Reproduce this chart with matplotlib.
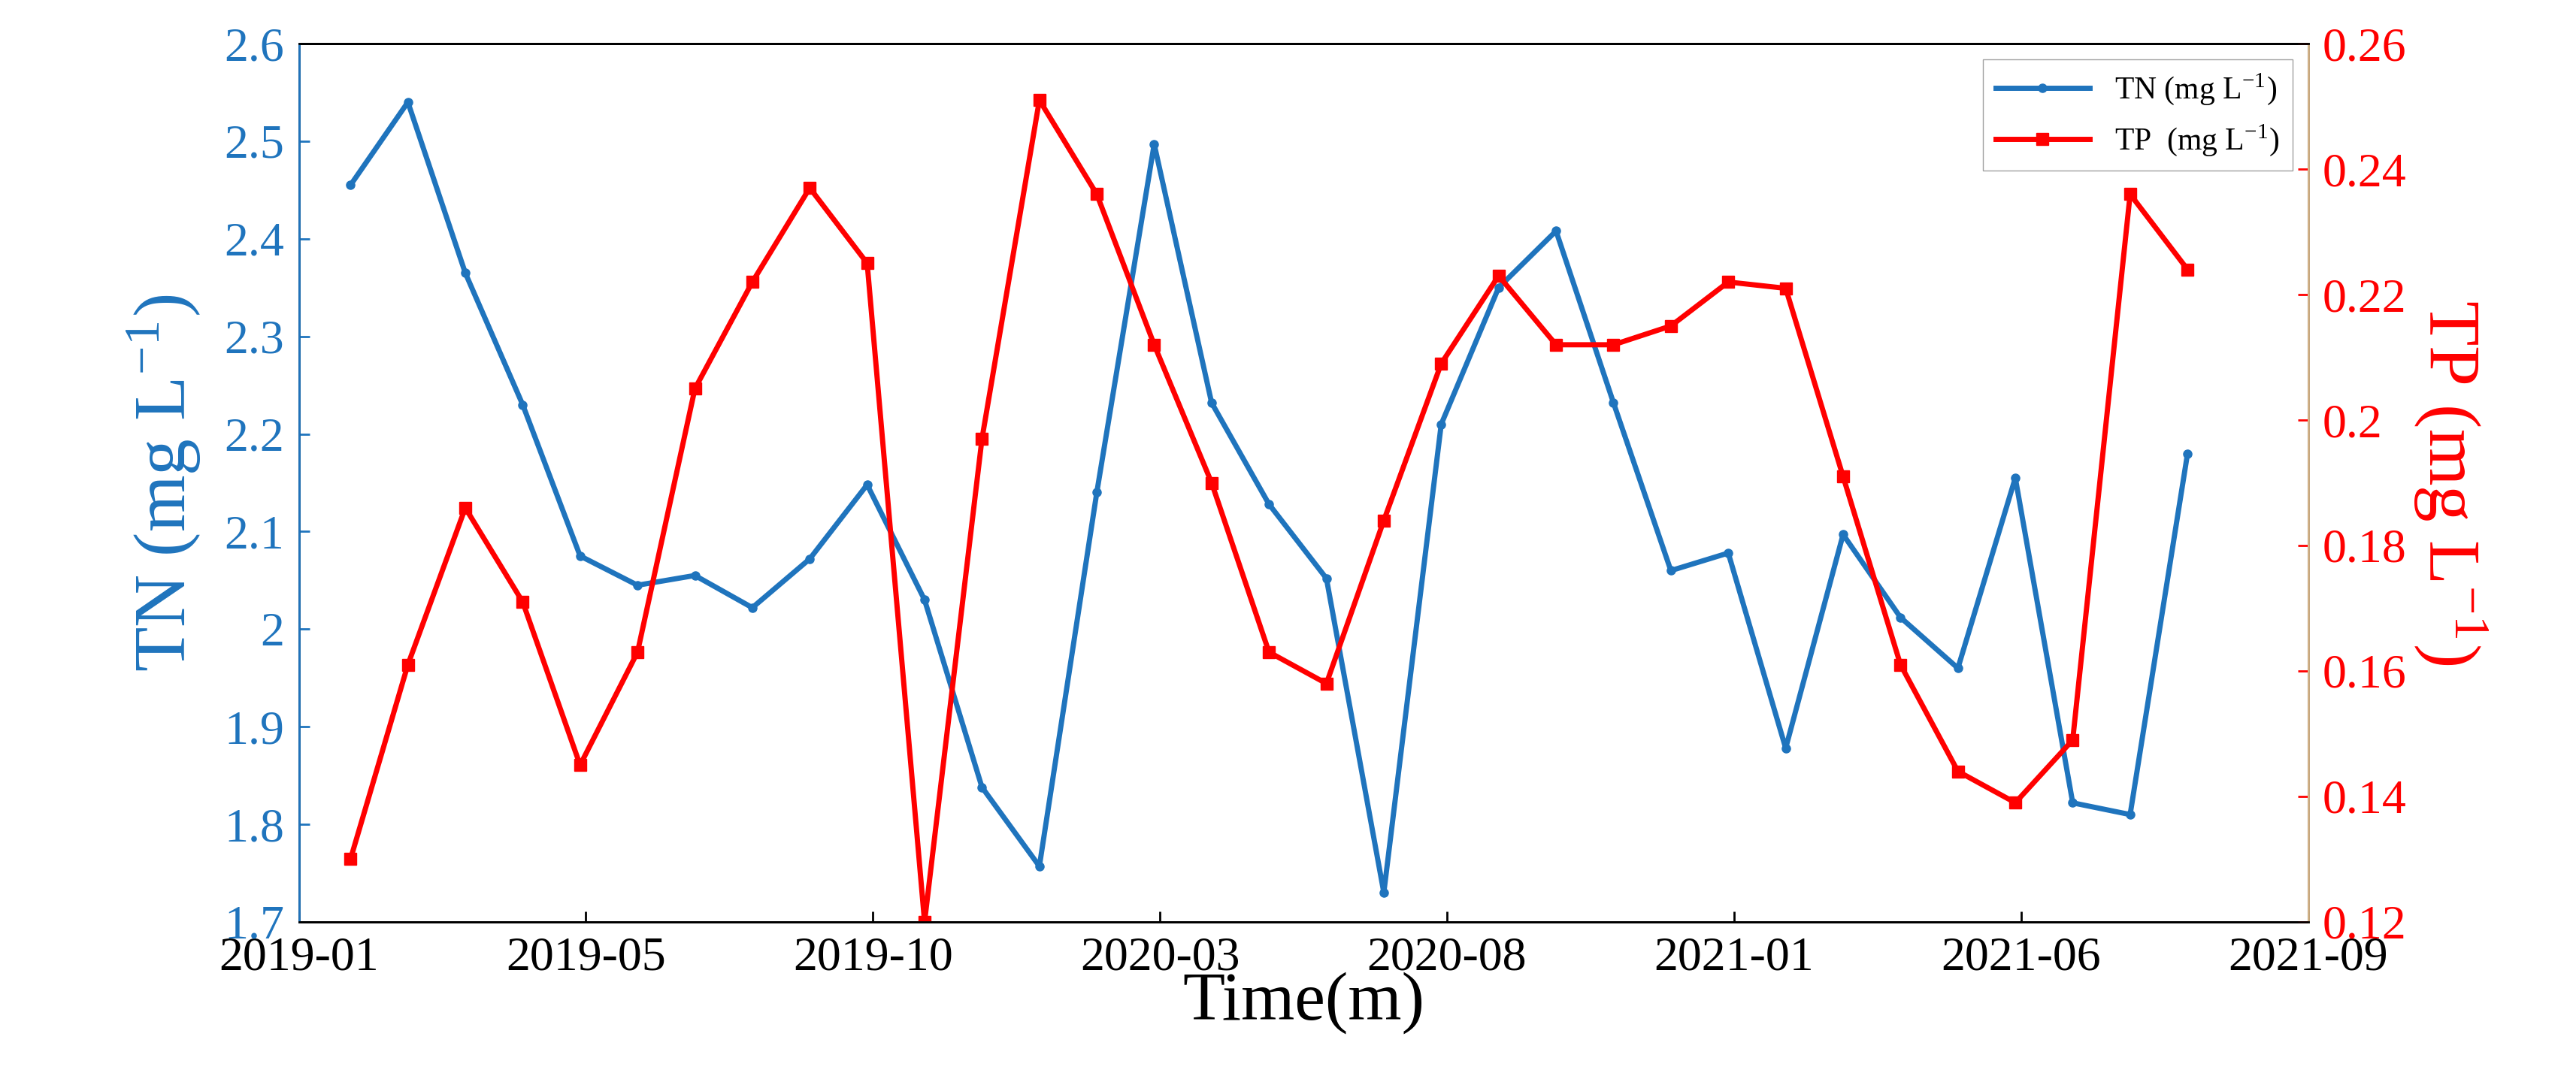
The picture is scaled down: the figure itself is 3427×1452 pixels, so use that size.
import numpy as np
import matplotlib
matplotlib.use('Agg')
import matplotlib.pyplot as plt

plt.rcParams['font.family'] = ['Liberation Serif', 'DejaVu Serif']
plt.rcParams['mathtext.fontset'] = 'stix'

# data: monthly samples (x in months from the 2019-01 tick)
tn = [2.455, 2.54, 2.365, 2.23, 2.075, 2.045, 2.055, 2.022, 2.072, 2.148, 2.03,
      1.838, 1.757, 2.14, 2.497, 2.232, 2.128, 2.052, 1.73, 2.21, 2.35, 2.408,
      2.232, 2.06, 2.078, 1.878, 2.097, 2.012, 1.96, 2.155, 1.822, 1.81, 2.18]
tp = [0.13, 0.161, 0.186, 0.171, 0.145, 0.163, 0.205, 0.222, 0.237, 0.225, 0.12,
      0.197, 0.251, 0.236, 0.212, 0.19, 0.163, 0.158, 0.184, 0.209, 0.223, 0.212,
      0.212, 0.215, 0.222, 0.221, 0.191, 0.161, 0.144, 0.139, 0.149, 0.236, 0.224]
tick_labels = ['2019-01', '2019-05', '2019-10', '2020-03', '2020-08',
               '2021-01', '2021-06', '2021-09']

blue = '#1f74bd'
red = '#ff0000'
x = np.arange(len(tn)) + 0.9

fig = plt.figure(figsize=(34.27, 14.52), dpi=100)
ax = fig.add_axes([0.116, 0.155, 0.78, 0.805])
ax2 = ax.twinx()

sup = r'$^{\mathregular{-1}}$'
l1, = ax.plot(x, tn, color=blue, lw=5, marker='o', ms=8, label='TN (mg L' + sup + ')')
l2, = ax2.plot(x, tp, color=red, lw=5, marker='s', ms=12,
               label='TP  (mg L' + sup + ')')

ax.set_xlim(0, 35)
ax.set_xticks(np.arange(0, 36, 5))
ax.set_xticklabels(tick_labels)
ax.set_ylim(1.7, 2.6)
ax.set_yticks(np.arange(1.7, 2.61, 0.1))
ax.set_yticklabels(['1.7', '1.8', '1.9', '2', '2.1', '2.2', '2.3', '2.4', '2.5', '2.6'])
ax2.set_ylim(0.12, 0.26)
ax2.set_yticks(np.arange(0.12, 0.261, 0.02))
ax2.set_yticklabels(['0.12', '0.14', '0.16', '0.18', '0.2', '0.22', '0.24', '0.26'])

ax.tick_params(axis='x', labelsize=46, direction='in', length=10, width=2, pad=14)
ax.tick_params(axis='y', labelsize=46, colors=blue, direction='in', length=10, width=2, pad=14)
ax2.tick_params(axis='y', labelsize=46, colors=red, direction='in', length=10, width=2, pad=14)

ax.set_xlabel('Time(m)', fontsize=66, labelpad=-8)
ax.set_ylabel('TN (mg L' + sup + ')', fontsize=70, color=blue, labelpad=20)
ax2.set_ylabel('TP (mg L' + sup + ')', fontsize=70, color=red, rotation=270, labelpad=80)

for a in (ax, ax2):
    for s in a.spines.values():
        s.set_linewidth(2)
ax2.spines['left'].set_color(blue)
ax2.spines['right'].set_color('#d9b88c')

ax.legend(handles=[l1, l2], loc='upper right', fontsize=30, frameon=True,
          fancybox=False, edgecolor='#888888', handlelength=3)

fig.savefig('out.png')
